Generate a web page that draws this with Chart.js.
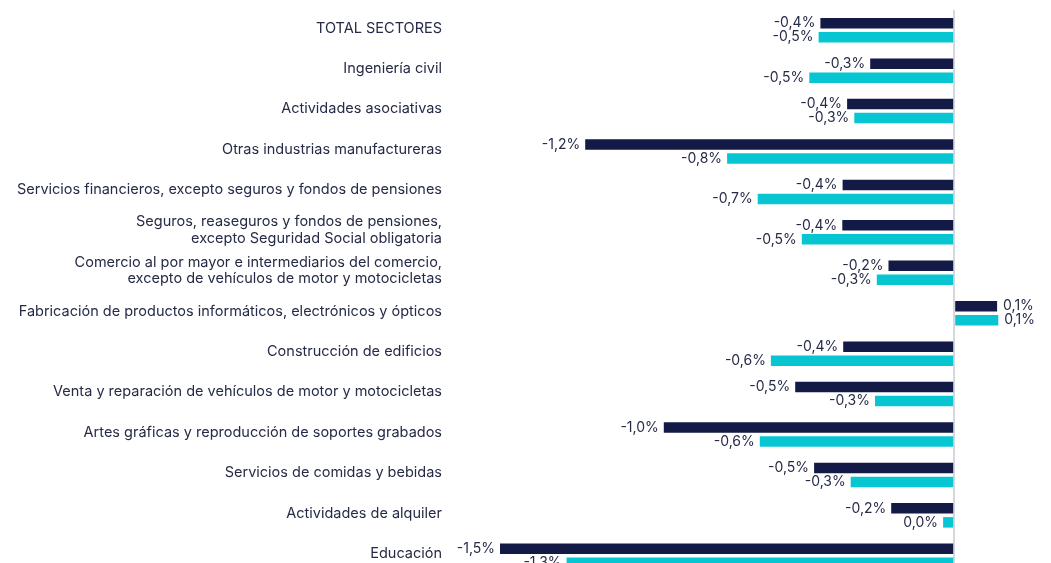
<!DOCTYPE html>
<html lang="es">
<head>
<meta charset="utf-8">
<title>Sectores</title>
<script src="https://cdn.jsdelivr.net/npm/chart.js@4.4.1/dist/chart.umd.min.js"></script>
<style>
    html, body { margin: 0; padding: 0; background: #ffffff; overflow: hidden; }
    canvas { display: block; }
</style>
</head>
<body>
<canvas id="sectoresChart" width="1051" height="576"></canvas>
<script>
var categorias = [
    "TOTAL SECTORES",
    "Ingeniería civil",
    "Actividades asociativas",
    "Otras industrias manufactureras",
    "Servicios financieros, excepto seguros y fondos de pensiones",
    ["Seguros, reaseguros y fondos de pensiones,", "excepto Seguridad Social obligatoria"],
    ["Comercio al por mayor e intermediarios del comercio,", "excepto de vehículos de motor y motocicletas"],
    "Fabricación de productos informáticos, electrónicos y ópticos",
    "Construcción de edificios",
    "Venta y reparación de vehículos de motor y motocicletas",
    "Artes gráficas y reproducción de soportes grabados",
    "Servicios de comidas y bebidas",
    "Actividades de alquiler",
    "Educación"
];

// variación (%) - serie oscura
var serieOscura = [-0.446, -0.28, -0.357, -1.23, -0.372, -0.373, -0.219, 0.143, -0.37, -0.53, -0.968, -0.467, -0.21, -1.514];
// variación (%) - serie turquesa
var serieTurquesa = [-0.452, -0.483, -0.333, -0.757, -0.655, -0.508, -0.258, 0.147, -0.611, -0.264, -0.648, -0.345, -0.037, -1.292];

var colorOscuro = "#121a45";
var colorTurquesa = "#08c6d1";
var colorTexto = "#262b47";

function formatoPct(v) {
    var r = Math.round(v * 10) / 10;
    if (r === 0) r = 0;
    return r.toFixed(1).replace(".", ",") + "%";
}

// etiquetas de valor al final de cada barra
var etiquetasBarras = {
    id: "etiquetasBarras",
    afterDatasetsDraw: function (chart) {
        var ctx = chart.ctx;
        ctx.save();
        ctx.font = "14px Inter, 'Noto Sans', sans-serif";
        ctx.fillStyle = colorTexto;
        ctx.textBaseline = "middle";
        chart.data.datasets.forEach(function (ds, di) {
            var meta = chart.getDatasetMeta(di);
            meta.data.forEach(function (bar, i) {
                var v = ds.data[i];
                if (v < 0) {
                    ctx.textAlign = "right";
                    ctx.fillText(formatoPct(v), bar.x - 5, bar.y);
                } else {
                    ctx.textAlign = "left";
                    ctx.fillText(formatoPct(v), bar.x + 6, bar.y);
                }
            });
        });
        ctx.restore();
    }
};

window.addEventListener("load", function () {
    new Chart("sectoresChart", {
        type: "bar",
        data: {
            labels: categorias,
            datasets: [{
                label: "Serie 1",
                data: serieOscura,
                backgroundColor: colorOscuro,
                barPercentage: 0.75,
                categoryPercentage: 0.6925
            }, {
                label: "Serie 2",
                data: serieTurquesa,
                backgroundColor: colorTurquesa,
                barPercentage: 0.75,
                categoryPercentage: 0.6925
            }]
        },
        options: {
            indexAxis: "y",
            responsive: false,
            animation: false,
            layout: { padding: { top: 10, right: 11, bottom: 0, left: 0 } },
            plugins: {
                legend: { display: false },
                tooltip: { enabled: false }
            },
            scales: {
                x: {
                    min: -1.664,
                    max: 0.286,
                    afterBuildTicks: function (scale) {
                        scale.ticks = [{ value: 0 }];
                    },
                    afterFit: function (scale) {
                        scale.height = 0;
                        scale.paddingLeft = 0;
                        scale.paddingRight = 0;
                    },
                    ticks: { display: false },
                    border: { display: false },
                    grid: { color: "#d6d8e0", lineWidth: 2, drawTicks: false }
                },
                y: {
                    afterFit: function (scale) {
                        scale.width = 455;
                        scale.paddingTop = 0;
                        scale.paddingBottom = 0;
                    },
                    border: { display: false },
                    grid: { display: false, drawTicks: false },
                    ticks: {
                        padding: 13,
                        labelOffset: -2,
                        color: colorTexto,
                        font: { family: "Inter, 'Noto Sans', sans-serif", size: 14.5, lineHeight: 1.15 }
                    }
                }
            }
        },
        plugins: [etiquetasBarras]
    });
});
</script>
</body>
</html>
